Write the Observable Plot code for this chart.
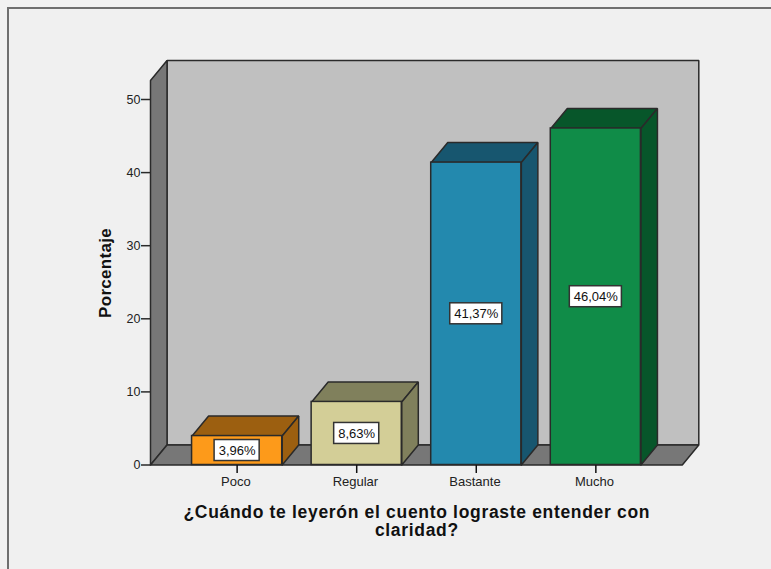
<!DOCTYPE html>
<html>
<head>
<meta charset="utf-8">
<script src="https://cdn.jsdelivr.net/npm/d3@7"></script>
<script src="https://cdn.jsdelivr.net/npm/@observablehq/plot@0.6"></script>
<style>
html,body{margin:0;padding:0;background:#f1f1f1;width:771px;height:569px;overflow:hidden}
#frame{position:absolute;left:7px;top:7px;width:764px;height:562px;box-sizing:border-box;border-left:2px solid #6f6f6f;border-top:2px solid #6f6f6f;background:#f0f0f0}
#chart{position:absolute;left:0;top:0}
svg{display:block;background:transparent !important}
.x-title{letter-spacing:0.68px}
.y-title{letter-spacing:0.3px}
</style>
</head>
<body>
<div id="frame"></div>
<div id="chart"></div>
<script>
const categories = ["Poco", "Regular", "Bastante", "Mucho"];
const percents = [3.96, 8.63, 41.37, 46.04];
const labels = ["3,96%", "8,63%", "41,37%", "46,04%"];
const frontColors = ["#fd9a1a", "#d3ce97", "#2389ae", "#108c48"];
const sideColors = ["#9c5f10", "#80805c", "#17566f", "#07562a"];
const yTicks = [0, 10, 20, 30, 40, 50];

const pxX = 119.4, pxY = 7.31;
const xMin = -0.7245, xFront = 3.7228;
const depthX = 16.5 / pxX, depthY = 20 / pxY;
const half = 45 / pxX;
const wallTop = 52.6;
const edge = "#2a2a2a";

const poly = (pts) => [...pts, pts[0]].map(([x, y]) => ({x, y}));
const face = (pts, fill, sw = 1.5) =>
  Plot.line(poly(pts), {x: "x", y: "y", fill, stroke: edge, strokeWidth: sw, curve: "linear", strokeLinejoin: "miter"});

const marks = [];
// back wall, left wall, floor
marks.push(face([[xMin + depthX, depthY], [xFront + depthX, depthY], [xFront + depthX, wallTop + depthY], [xMin + depthX, wallTop + depthY]], "#c0c0c0"));
marks.push(face([[xMin, 0], [xMin + depthX, depthY], [xMin + depthX, wallTop + depthY], [xMin, wallTop]], "#777777"));
marks.push(face([[xMin, 0], [xFront, 0], [xFront + depthX, depthY], [xMin + depthX, depthY]], "#777777"));

categories.forEach((c, i) => {
  const v = percents[i], l = i - half, r = i + half;
  marks.push(face([[l, v], [r, v], [r + depthX, v + depthY], [l + depthX, v + depthY]], sideColors[i]));
  marks.push(face([[r, 0], [r + depthX, depthY], [r + depthX, v + depthY], [r, v]], sideColors[i]));
});
marks.push(Plot.rect(categories.map((c, i) => ({i, v: percents[i]})), {
  x1: d => d.i - half, x2: d => d.i + half, y1: 0, y2: "v",
  fill: d => frontColors[d.i], stroke: edge, strokeWidth: 1.5
}));
// value labels
const boxW = [22.5, 22.5, 26, 26].map(p => p / pxX), boxH = 10.5 / pxY;
marks.push(Plot.rect(categories.map((c, i) => ({i, v: percents[i]})), {
  x1: d => d.i - boxW[d.i], x2: d => d.i + boxW[d.i], y1: d => d.v / 2 - boxH, y2: d => d.v / 2 + boxH,
  fill: "white", stroke: "#333", strokeWidth: 1.5
}));
marks.push(Plot.text(categories.map((c, i) => ({i, v: percents[i], t: labels[i]})), {
  x: "i", y: d => d.v / 2, text: "t", fontSize: 13, fill: "#111", fontFamily: "Liberation Sans"
}));
// axes
marks.push(Plot.axisY({ticks: yTicks, tickSize: 9, tickPadding: 1, fontSize: 12.5, label: null, stroke: edge, strokeWidth: 1.5, fill: "#222", fontFamily: "Liberation Sans", tickFormat: d => String(d)}));
marks.push(Plot.link([0, 1, 2, 3], {x1: d => d, x2: d => d, y1: () => 0, y2: () => -8 / pxY, stroke: "#111", strokeWidth: 1.5}));
marks.push(Plot.axisX({ticks: [0, 1, 2, 3], tickSize: 0, tickPadding: 12, dx: -1.3, fontSize: 13, label: null, fill: "#222", fontFamily: "Liberation Sans", tickFormat: i => categories[i]}));
// titles
marks.push(Plot.text(["¿Cuándo te leyerón el cuento lograste entender con\nclaridad?"], {
  x: [1.503], y: [0], dy: 56, text: d => d, fontSize: 17.5, fontWeight: "bold", fill: "#111",
  fontFamily: "Liberation Sans", lineHeight: 1.06, className: "x-title"
}));
marks.push(Plot.text(["Porcentaje"], {
  x: [xMin], y: [26.27], dx: -45, rotate: -90, text: d => d, fontSize: 17, fontWeight: "bold", fill: "#111",
  fontFamily: "Liberation Sans", className: "y-title"
}));

const chart = Plot.plot({
  width: 771, height: 569,
  marginLeft: 150, marginRight: 72.7, marginTop: 60, marginBottom: 104.5,
  style: {background: "transparent", overflow: "visible"},
  x: {type: "linear", domain: [xMin, xFront + depthX], axis: null},
  y: {type: "linear", domain: [0, 404.5 / pxY], axis: null},
  marks
});
document.getElementById("chart").appendChild(chart);
</script>
</body>
</html>
